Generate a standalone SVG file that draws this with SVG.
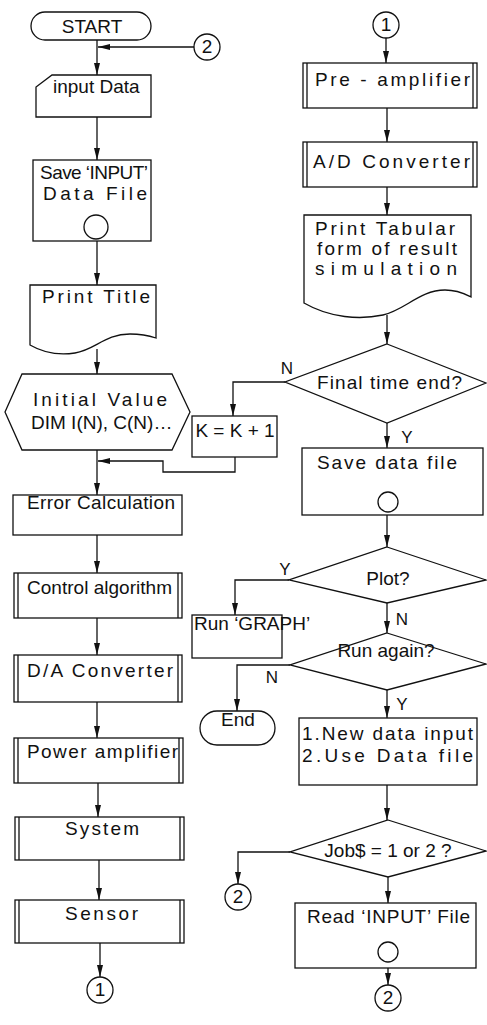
<svg xmlns="http://www.w3.org/2000/svg" width="487" height="1025" viewBox="0 0 487 1025">
<style>
.s{fill:#fff;stroke:#111;stroke-width:1.3}
.c{fill:none;stroke:#111;stroke-width:1.3}
.t{font-family:"Liberation Sans",Arial,sans-serif;font-size:19px;fill:#111}
.m{text-anchor:middle}
.lb{font-family:"Liberation Sans",Arial,sans-serif;font-size:17px;fill:#111;text-anchor:middle}
</style>
<defs>
<marker id="a" markerUnits="userSpaceOnUse" markerWidth="13" markerHeight="7" refX="12" refY="3" orient="auto">
<path d="M0,0 L12,3 L0,6 Z" fill="#111"/>
</marker>
</defs>
<rect width="487" height="1025" fill="#fff"/>

<g id="connectors" class="c" marker-end="url(#a)">
<path d="M97,40 V75"/>
<path d="M194,47 H98"/>
<path d="M97,117 V160"/>
<path d="M97,241 V285"/>
<path d="M97,349 V374"/>
<path d="M97,450 V495"/>
<path d="M235,457 V472 H163 V461 H98"/>
<path d="M97,535 V573"/>
<path d="M97,618 V655"/>
<path d="M97,702 V738"/>
<path d="M98,783 V817"/>
<path d="M99,860 V900"/>
<path d="M100,943 V977"/>
<path d="M386,38 V63"/>
<path d="M387,108 V142"/>
<path d="M387,187 V215"/>
<path d="M387,315 V344"/>
<path d="M387,423 V448"/>
<path d="M285,382 H233 V416"/>
<path d="M387,515 V547"/>
<path d="M289,580 H235 V615"/>
<path d="M387,603 V633"/>
<path d="M290,665 H237 V711"/>
<path d="M387,690 V718"/>
<path d="M387,785 V820"/>
<path d="M290,852 H238 V884"/>
<path d="M388,877 V903"/>
<path d="M388,968 V985"/>
</g>

<g id="start">
<rect class="s" x="31" y="12" width="120" height="28" rx="14"/>
<text class="t m" x="92" y="33" font-size="18">START</text>
</g>
<g id="conn2top">
<circle class="s" cx="207" cy="47" r="13"/>
<text class="t m" x="207" y="53" font-size="17">2</text>
</g>
<g id="inputData">
<path class="s" d="M52,75 H151 V117 H36 V87 Z"/>
<text class="t" x="53" y="93" font-size="17">input Data</text>
</g>
<g id="saveInput">
<rect class="s" x="33" y="160" width="118" height="81"/>
<text class="t" x="40" y="179" font-size="17" textLength="108">Save ‘INPUT’</text>
<text class="t" x="43" y="200" font-size="18" textLength="104">Data File</text>
<circle class="s" cx="96" cy="227" r="12"/>
</g>
<g id="printTitle">
<path class="s" d="M30,285 H156 V338 C150,336 142,334 130,334 C105,334 95,350 75,353 C55,356 42,352 30,345 Z"/>
<text class="t" x="42" y="303" textLength="108">Print Title</text>
</g>
<g id="initial">
<polygon class="s" points="5,412 22,374 172,374 190,412 172,450 22,450"/>
<text class="t" x="33" y="406" font-size="18" textLength="134">Initial Value</text>
<text class="t" x="31" y="429" font-size="15">DIM I(N), C(N)…</text>
</g>
<g id="kbox">
<rect class="s" x="192" y="416" width="85" height="41"/>
<text class="t m" x="235" y="437" font-size="14">K = K + 1</text>
</g>
<g id="error">
<rect class="s" x="13" y="495" width="169" height="40"/>
<text class="t" x="27" y="509" font-size="17" textLength="148">Error Calculation</text>
</g>
<g id="control">
<rect class="s" x="14" y="573" width="168" height="45"/>
<path class="c" d="M18,573 V618 M178,573 V618"/>
<text class="t" x="27" y="594" font-size="17" textLength="145">Control algorithm</text>
</g>
<g id="da">
<rect class="s" x="14" y="655" width="168" height="47"/>
<path class="c" d="M18,655 V702 M178,655 V702"/>
<text class="t" x="27" y="677" textLength="146">D/A Converter</text>
</g>
<g id="power">
<rect class="s" x="14" y="738" width="169" height="45"/>
<path class="c" d="M18,738 V783 M179,738 V783"/>
<text class="t" x="27" y="758" textLength="151">Power amplifier</text>
</g>
<g id="system">
<rect class="s" x="15" y="817" width="169" height="43"/>
<path class="c" d="M19,817 V860 M180,817 V860"/>
<text class="t" x="65" y="835" textLength="74">System</text>
</g>
<g id="sensor">
<rect class="s" x="15" y="900" width="169" height="43"/>
<path class="c" d="M19,900 V943 M180,900 V943"/>
<text class="t" x="65" y="920" textLength="73">Sensor</text>
</g>
<g id="conn1bottom">
<circle class="s" cx="100" cy="990" r="13"/>
<text class="t m" x="100" y="996" font-size="17">1</text>
</g>

<g id="conn1top">
<circle class="s" cx="386" cy="25" r="13"/>
<text class="t m" x="386" y="31" font-size="17">1</text>
</g>
<g id="preamp">
<rect class="s" x="303" y="63" width="174" height="45"/>
<path class="c" d="M307,63 V108 M473,63 V108"/>
<text class="t" x="315" y="86" textLength="155">Pre - amplifier</text>
</g>
<g id="ad">
<rect class="s" x="303" y="142" width="174" height="45"/>
<path class="c" d="M307,142 V187 M473,142 V187"/>
<text class="t" x="313" y="168" textLength="157">A/D Converter</text>
</g>
<g id="printTab">
<path class="s" d="M304,215 H471 V297 C465,294 458,290 445,290 C420,290 405,310 383,315 C360,320 330,318 304,303 Z"/>
<text class="t" x="315" y="235" font-size="17" textLength="140">Print Tabular</text>
<text class="t" x="317" y="255" font-size="17" textLength="140">form of result</text>
<text class="t" x="315" y="275" font-size="17" textLength="142">simulation</text>
</g>
<g id="finalTime">
<polygon class="s" points="387,344 486,383 387,423 285,382"/>
<text class="t" x="317" y="389" font-size="18" textLength="145">Final time end?</text>
<text class="lb" x="287" y="374">N</text>
<text class="lb" x="407" y="443">Y</text>
</g>
<g id="saveData">
<rect class="s" x="302" y="448" width="181" height="67"/>
<text class="t" x="317" y="469" textLength="140">Save data file</text>
<circle class="s" cx="388" cy="502" r="10"/>
</g>
<g id="plot">
<polygon class="s" points="387,547 486,580 387,603 289,580"/>
<text class="t m" x="388" y="585" font-size="18">Plot?</text>
<text class="lb" x="285" y="575">Y</text>
<text class="lb" x="402" y="625">N</text>
</g>
<g id="runGraph">
<rect class="s" x="192" y="615" width="90" height="43"/>
<text class="t" x="194" y="630" font-size="12.5">Run ‘GRAPH’</text>
</g>
<g id="runAgain">
<polygon class="s" points="387,633 486,664 387,690 290,665"/>
<text class="t m" x="386" y="657" font-size="15">Run again?</text>
<text class="lb" x="272" y="683">N</text>
<text class="lb" x="402" y="710">Y</text>
</g>
<g id="end">
<rect class="s" x="200" y="711" width="75" height="34" rx="17"/>
<text class="t m" x="238" y="726" font-size="13">End</text>
</g>
<g id="newData">
<rect class="s" x="299" y="718" width="178" height="67"/>
<text class="t" x="302" y="740" font-size="18" textLength="171">1.New data input</text>
<text class="t" x="302" y="762" font-size="18" textLength="171">2.Use Data file</text>
</g>
<g id="job">
<polygon class="s" points="388,820 486,851 388,877 290,852"/>
<text class="t m" x="388" y="857" font-size="15">Job$ = 1 or 2 ?</text>
</g>
<g id="conn2left">
<circle class="s" cx="238" cy="897" r="13"/>
<text class="t m" x="238" y="903" font-size="17">2</text>
</g>
<g id="readInput">
<rect class="s" x="295" y="903" width="181" height="65"/>
<text class="t" x="307" y="923" textLength="163">Read ‘INPUT’ File</text>
<circle class="s" cx="388" cy="952" r="10"/>
</g>
<g id="conn2bottom">
<circle class="s" cx="388" cy="998" r="13"/>
<text class="t m" x="388" y="1004" font-size="17">2</text>
</g>
</svg>
